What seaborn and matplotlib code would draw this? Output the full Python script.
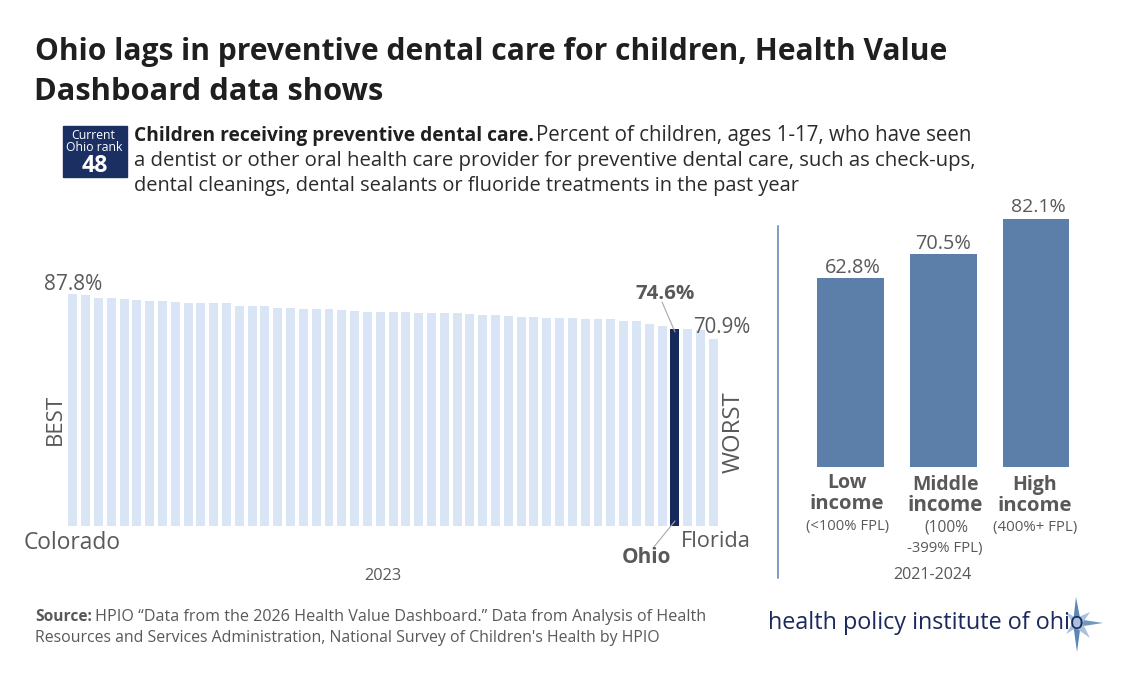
import matplotlib
matplotlib.use("Agg")
import matplotlib.pyplot as plt
from matplotlib.patches import Polygon, Rectangle
from matplotlib.lines import Line2D
import seaborn as sns
import pandas as pd
import numpy as np

W, H = 1131, 696
FONT = "Open Sans"
GREY = "#58595b"
NAVY = "#1b2f63"
PROBE_X = 23.3

state_rank = list(range(1, 52))
state_values = [87.8, 87.5, 86.4, 86.4, 85.7, 85.4, 85.1, 85.1, 84.8, 84.5, 84.5, 84.2, 84.2,
                83.3, 83.1, 83.1, 82.6, 82.3, 81.9, 81.9, 81.9, 81.6, 81.4, 81.1, 80.9, 80.9,
                80.8, 80.7, 80.6, 80.6, 80.4, 80.1, 79.9, 79.8, 79.4, 79.2, 79.2, 78.8, 78.7,
                78.5, 78.3, 78.3, 78.3, 77.7, 77.7, 76.4, 75.8, 74.6, 74.5, 74.1, 70.9]
ohio_rank = 48
income_groups = ["Low", "Middle", "High"]
income_values = [62.8, 70.5, 82.1]

sns.set_theme(style="white")
plt.rcParams["font.family"] = [FONT, "DejaVu Sans"]
fig = plt.figure(figsize=(W / 100, H / 100), dpi=100, facecolor="white")
probe = plt.figure(figsize=(W / 100, H / 100), dpi=100, facecolor="white")


def axes_px(x0, y0, x1, y1):
    return fig.add_axes([x0 / W, 1 - y1 / H, (x1 - x0) / W, (y1 - y0) / H])


def ink_span(s, size, weight, rotation):
    """Ink extent along the reading direction, from a real render of the text."""
    t = probe.text(PROBE_X / W, 0.5, s, fontsize=size, fontweight=weight, color="black",
                   ha="left", va="center", rotation=rotation)
    probe.canvas.draw()
    buf = np.asarray(probe.canvas.buffer_rgba())[:, :, 0] < 200
    t.remove()
    hits = np.where(buf.any(axis=1 if rotation else 0))[0]
    return int(hits[0]), int(hits[-1]) + 1


def fitted_size(s, span, weight, rotation=0):
    size = 14.0
    for _ in range(4):
        a, b = ink_span(s, size, weight, rotation)
        size *= span / (b - a)
    return size


def put(x0, x1, base, s, weight="regular", color=GREY):
    """Text whose ink runs from x0 to x1 (px); font size is derived from that span."""
    size = fitted_size(s, x1 - x0, weight)
    a, _ = ink_span(s, size, weight, 0)
    return fig.text((x0 - a + PROBE_X) / W, 1 - base / H, s, fontsize=size, fontweight=weight,
                    color=color, ha="left", va="baseline")


def put_vertical(xc, y0, y1, s):
    size = fitted_size(s, y1 - y0, "regular", 90)
    return fig.text(xc / W, 1 - (y0 + y1) / 2 / H, s, fontsize=size, color=GREY,
                    ha="center", va="center", rotation=90)


# ---- left chart
df_states = pd.DataFrame({"rank": state_rank, "value": state_values})
ax = axes_px(66.4, 261.7, 719.7, 525.7)
palette = ["#15295a" if r == ohio_rank else "#d9e4f4" for r in state_rank]
sns.barplot(data=df_states, x="rank", y="value", hue="rank", palette=palette, legend=False,
            width=0.7, saturation=1, linewidth=0, ax=ax)
ax.set_xlim(-0.5, 50.5)
ax.set_ylim(0, 100)
ax.axis("off")

# ---- right chart
df_income = pd.DataFrame({"group": income_groups, "value": income_values})
ax2 = axes_px(804.3, 195.3, 1082.4, 467.3)
sns.barplot(data=df_income, x="group", y="value", color="#5b7fa9", width=0.72, saturation=1,
            linewidth=0, ax=ax2)
ax2.set_xlim(-0.5, 2.5)
ax2.set_ylim(0, 90)
ax2.axis("off")


def line(x0, y0, x1, y1, color, lw):
    fig.add_artist(Line2D([x0 / W, x1 / W], [1 - y0 / H, 1 - y1 / H], color=color, lw=lw))


line(778, 226, 778, 578, "#7f9bc4", 1.4)
line(662, 302, 675, 332, "#a8a8a8", 0.8)
line(653, 548, 675, 521, "#a8a8a8", 0.8)

# ---- badge
fig.add_artist(Rectangle((63.3 / W, 1 - 176.7 / H), 63.4 / W, 51 / H, color=NAVY,
                         transform=fig.transFigure))
put(72, 115, 139, "Current", color="white")
put(66, 122, 151, "Ohio rank", color="white")
put(82, 107, 172, "48", weight="bold", color="white")

# ---- titles and description
TITLE = "#1f1f1f"
put(36, 948, 60, "Ohio lags in preventive dental care for children, Health Value", "bold", TITLE)
put(36, 382, 100, "Dashboard data shows", "bold", TITLE)
put(135, 533, 141, "Children receiving preventive dental care.", "bold", TITLE)
put(538, 970, 141, "Percent of children, ages 1-17, who have seen", "regular", "#2b2b2b")
put(135, 977, 166, "a dentist or other oral health care provider for preventive dental care, such as check-ups,", "regular", "#2b2b2b")
put(135, 800, 191, "dental cleanings, dental sealants or fluoride treatments in the past year", "regular", "#2b2b2b")

# ---- left chart labels
put(45, 101, 290, f"{state_values[0]}%")
put(636, 694, 299, f"{state_values[ohio_rank - 1]}%", "bold")
put(695, 750, 333, f"{state_values[-1]}%")
put(25, 119, 549, "Colorado")
put(623, 670, 563, "Ohio", "bold")
put(683, 748, 547, "Florida")
put(365, 400, 580, "2023")
put_vertical(55, 395, 443, "BEST")
put_vertical(734, 392, 473, "WORST")

# ---- right chart labels
put(826, 879, 273, f"{income_values[0]}%")
put(917, 970, 249, f"{income_values[1]}%")
put(1012, 1065, 212, f"{income_values[2]}%")
put(829, 866, 488, "Low", "bold")
put(811, 883, 509, "income", "bold")
put(806, 889, 530, "(<100% FPL)")
put(914, 978, 490, "Middle", "bold")
put(909, 982, 511, "income", "bold")
put(925, 967, 531, "(100%")
put(907, 982, 552, "-399% FPL)")
put(1014, 1056, 490, "High", "bold")
put(999, 1071, 511, "income", "bold")
put(993, 1077, 531, "(400%+ FPL)")
put(894, 972, 579, "2021-2024")

# ---- source
put(36, 91, 621, "Source:", "bold")
put(96, 706, 621, "HPIO \u201cData from the 2026 Health Value Dashboard.\u201d Data from Analysis of Health")
put(36, 657, 642, "Resources and Services Administration, National Survey of Children's Health by HPIO")

# ---- logo
cx, cy = 1077, 623
spikes = [((1076, 597), 4, "#5b86b8"), ((1077, 652), 4, "#5b86b8"), ((1103, 623), 4, "#6f97c4"),
          ((1090, 612), 5, "#a9c1dd"), ((1090, 638), 5, "#a9c1dd"), ((1066, 612), 4, "#a9c1dd"),
          ((1066, 634), 4, "#a9c1dd")]
for (px, py), hw, col in spikes:
    dx, dy = px - cx, py - cy
    n = (dx * dx + dy * dy) ** 0.5
    ox, oy = -dy / n * hw, dx / n * hw
    pts = [(px, py), (cx + ox, cy + oy), (cx - ox, cy - oy)]
    fig.add_artist(Polygon([(a / W, 1 - b / H) for a, b in pts], closed=True, color=col,
                           transform=fig.transFigure, lw=0))
put(770, 1083, 629, "health policy institute of ohio", "regular", "#1b2a5c")

fig.savefig("out.png", dpi=100, facecolor="white")
